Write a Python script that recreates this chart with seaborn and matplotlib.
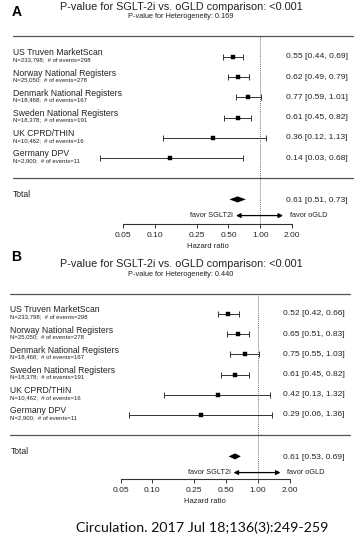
import matplotlib
matplotlib.use("Agg")
import matplotlib.pyplot as plt
import matplotlib.transforms as mtransforms
import seaborn as sns
import numpy as np

# study labels (same for both panels)
studies = ["US Truven MarketScan", "Norway National Registers", "Denmark National Registers",
           "Sweden National Registers", "UK CPRD/THIN", "Germany DPV"]
details = ["N=233,798;  # of events=298", "N=25,050;  # of events=278",
           "N=18,468;  # of events=167", "N=18,378;  # of events=191",
           "N=10,462;  # of events=16", "N=2,900;  # of events=11"]

# panel A
hr_a = [0.55, 0.62, 0.77, 0.61, 0.36, 0.14]
lo_a = [0.44, 0.49, 0.59, 0.45, 0.12, 0.03]
hi_a = [0.69, 0.79, 1.01, 0.82, 1.13, 0.68]
total_a = (0.61, 0.51, 0.73)
het_a = "0.169"

# panel B
hr_b = [0.52, 0.65, 0.75, 0.61, 0.42, 0.29]
lo_b = [0.42, 0.51, 0.55, 0.45, 0.13, 0.06]
hi_b = [0.66, 0.83, 1.03, 0.82, 1.32, 1.36]
total_b = (0.61, 0.53, 0.69)
het_b = "0.440"

ticks = [0.05, 0.10, 0.25, 0.50, 1.00, 2.00]
tick_labels = ["0.05", "0.10", "0.25", "0.50", "1.00", "2.00"]

sns.set_style("white")
plt.rcParams["font.family"] = ["Liberation Sans", "DejaVu Sans"]

W, H = 362, 544
fig = plt.figure(figsize=(W / 100, H / 100), dpi=100)
TXT = "#222222"


def draw_panel(left_px, top_px, row0_px, axis_px, hr, lo, hi, total):
    pitch = 20.2
    ax = fig.add_axes([left_px / W, 1 - axis_px / H, 169 / W, (axis_px - top_px) / H])
    ax.set_xscale("log")
    ax.set_xlim(0.05, 2.0)
    y_top = (top_px - row0_px) / pitch
    y_bot = (axis_px - row0_px) / pitch
    ax.set_ylim(y_bot, y_top)

    rows = np.arange(len(hr))
    hr = np.array(hr)
    lo = np.array(lo)
    hi = np.array(hi)

    eb = ax.errorbar(hr, rows, xerr=[hr - lo, hi - hr], fmt="none", ecolor="#333333",
                     elinewidth=0.7, capsize=2, capthick=0.7)
    for art in eb.get_children():
        art.set_clip_on(False)
    sns.scatterplot(x=hr, y=rows, marker="s", color="black", s=11, edgecolor="black",
                    linewidth=0.3, ax=ax, zorder=3, legend=False)

    # pooled estimate diamond
    t_row = 7.05
    est, tlo, thi = total
    ax.fill([tlo, est, thi, est], [t_row, t_row - 0.15, t_row, t_row + 0.15],
            color="black", lw=0)

    ax.axvline(1.0, color="#777777", lw=0.7, ls=(0, (1, 1)), zorder=0)

    blend = mtransforms.blended_transform_factory(ax.transAxes, ax.transData)
    for yy in [y_top, 6.0]:
        ax.plot([-0.651, 1.36], [yy, yy], color="#555555", lw=0.9, transform=blend,
                clip_on=False)

    for i, (name, det) in enumerate(zip(studies, details)):
        ax.text(-0.651, i - 0.2, name, fontsize=6.2, color=TXT, va="center", transform=blend)
        ax.text(-0.651, i + 0.13, det, fontsize=4.3, color=TXT, va="center", transform=blend)
        ax.text(0.962, i, f"{hr[i]:.2f} [{lo[i]:.2f}, {hi[i]:.2f}]", fontsize=6.1,
                color=TXT, va="center", transform=blend)
    ax.text(-0.651, t_row - 0.25, "Total", fontsize=6.2, color=TXT, va="center", transform=blend)
    ax.text(0.962, t_row + 0.05, f"{est:.2f} [{tlo:.2f}, {thi:.2f}]", fontsize=6.1,
            color=TXT, va="center", transform=blend)

    f_row = 7.85
    ax.text(0.651, f_row, "favor SGLT2i", fontsize=5.3, color=TXT, ha="right", va="center",
            transform=blend)
    ax.text(0.988, f_row, "favor oGLD", fontsize=5.3, color=TXT, ha="left", va="center",
            transform=blend)
    ax.annotate("", xy=(0.947, f_row), xytext=(0.669, f_row), xycoords=blend, textcoords=blend,
                arrowprops=dict(arrowstyle="<|-|>", color="black", lw=0.9,
                                mutation_scale=6.5, shrinkA=0, shrinkB=0))

    for side in ["top", "left", "right"]:
        ax.spines[side].set_visible(False)
    ax.spines["bottom"].set_color("#333333")
    ax.spines["bottom"].set_linewidth(0.8)
    ax.set_xticks(ticks)
    ax.set_xticklabels(tick_labels)
    ax.minorticks_off()
    ax.tick_params(axis="x", direction="out", length=3, width=0.7, color="#333333",
                   labelsize=6, labelcolor=TXT, pad=2.5, bottom=True)
    ax.set_yticks([])
    ax.set_xlabel("Hazard ratio", fontsize=5.5, color=TXT, labelpad=3)
    ax.set_facecolor("none")
    return ax


draw_panel(123, 36, 57, 224, hr_a, lo_a, hi_a, total_a)
draw_panel(120.5, 294, 314, 479, hr_b, lo_b, hi_b, total_b)

title = "P-value for SGLT-2i vs. oGLD comparison: <0.001"
fig.text(0.5, 1 - 7 / H, title, fontsize=7.8, color=TXT, ha="center", va="center")
fig.text(0.5, 1 - 17 / H, "P-value for Heterogeneity: " + het_a, fontsize=5.3, color=TXT,
         ha="center", va="center")
fig.text(12 / W, 1 - 12 / H, "A", fontsize=10, fontweight="bold", color="black", va="center")

fig.text(0.5, 1 - 264 / H, title, fontsize=7.8, color=TXT, ha="center", va="center")
fig.text(0.5, 1 - 274.5 / H, "P-value for Heterogeneity: " + het_b, fontsize=5.3, color=TXT,
         ha="center", va="center")
fig.text(11 / W, 1 - 257 / H, "B", fontsize=10, fontweight="bold", color="black", va="center")

fig.text(76 / W, 1 - 528 / H, "Circulation. 2017 Jul 18;136(3):249-259", fontsize=10.3,
         color="#111111", ha="left", va="center", family=["Lato", "DejaVu Sans"])

fig.savefig("out.png", dpi=100)
